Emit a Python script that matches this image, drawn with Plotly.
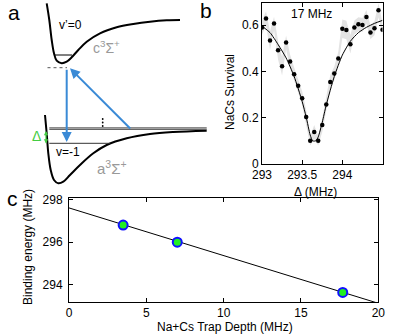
import plotly.graph_objects as go

# ---- panel b: NaCs survival vs detuning ----
detuning = [293.0, 293.05, 293.1, 293.15, 293.2, 293.25, 293.3, 293.35, 293.4, 293.45,
            293.5, 293.55, 293.6, 293.65, 293.7, 293.75, 293.8, 293.85, 293.9, 293.95,
            294.0, 294.05, 294.1, 294.15, 294.2, 294.25, 294.3, 294.35, 294.4, 294.45, 294.5]
survival = [0.589, 0.628, 0.533, 0.606, 0.491, 0.422, 0.525, 0.442, 0.387, 0.338,
            0.284, 0.203, 0.100, 0.138, 0.100, 0.168, 0.257, 0.354, 0.391, 0.455,
            0.584, 0.578, 0.517, 0.589, 0.603, 0.600, 0.635, 0.568, 0.586, 0.664, 0.580]
survival_err = [0.03, 0.03, 0.04, 0.03, 0.04, 0.04, 0.03, 0.03, 0.03, 0.03,
                0.03, 0.03, 0.02, 0.03, 0.02, 0.03, 0.03, 0.03, 0.03, 0.03,
                0.04, 0.04, 0.04, 0.03, 0.03, 0.03, 0.03, 0.03, 0.03, 0.03, 0.03]
fit_x = [293.0, 293.1, 293.2, 293.3, 293.4, 293.5, 293.55, 293.6, 293.63, 293.67,
         293.7, 293.75, 293.8, 293.9, 294.0, 294.1, 294.2, 294.3, 294.4, 294.5]
fit_y = [0.595, 0.567, 0.516, 0.458, 0.378, 0.270, 0.203, 0.125, 0.100, 0.100,
         0.117, 0.180, 0.255, 0.378, 0.470, 0.530, 0.567, 0.590, 0.607, 0.620]

# ---- panel c: binding energy vs trap depth ----
trap_depth = [3.5, 7.0, 17.7]
binding = [296.8, 296.0, 293.65]
line_x = [0, 20]
line_y = [297.6, 293.14]

# ---- panel a: schematic potentials (pixel-like coords) ----
c_pot_x = [46.7, 49.3, 51.7, 54, 56.7, 61.7, 66.7, 71.7, 78.3, 86.7, 100, 116.7, 133.3, 150, 166.7, 180]
c_pot_y = [3.3, 20, 40, 53.3, 60.7, 63.3, 61.7, 57.3, 50, 41.7, 33.3, 27.3, 24, 21.7, 20.3, 20]
a_pot_x = [45, 46.7, 48.3, 50.7, 54, 58.3, 63.3, 70, 80, 93.3, 106.7, 126.7, 150, 173.3, 206.7]
a_pot_y = [115, 133.3, 153.3, 170, 180, 183.3, 181.7, 175, 165, 153.3, 145, 138.3, 134, 132, 130.7]

FONT = "Liberation Sans Narrow, Liberation Sans, Arial"
FS = 12
W, H = 395, 336

fig = go.Figure()

# panel a curves
fig.add_trace(go.Scatter(x=c_pot_x, y=c_pot_y, mode="lines", line=dict(color="black", width=2, shape="spline"),
                         xaxis="x3", yaxis="y3", showlegend=False))
fig.add_trace(go.Scatter(x=a_pot_x, y=a_pot_y, mode="lines", line=dict(color="black", width=2, shape="spline"),
                         xaxis="x3", yaxis="y3", showlegend=False))
# levels
fig.add_trace(go.Scatter(x=[55, 72], y=[55, 55], mode="lines", line=dict(color="black", width=1),
                         xaxis="x3", yaxis="y3", showlegend=False))
fig.add_trace(go.Scatter(x=[47.5, 67], y=[67.7, 67.7], mode="lines", line=dict(color="#555555", width=1, dash="dot"),
                         xaxis="x3", yaxis="y3", showlegend=False))
for yy in [127.8, 129.4]:
    fig.add_trace(go.Scatter(x=[49.3, 206.7], y=[yy, yy], mode="lines", line=dict(color="#666666", width=1.2),
                             xaxis="x3", yaxis="y3", showlegend=False))
fig.add_trace(go.Scatter(x=[49.3, 110], y=[143.3, 143.3], mode="lines", line=dict(color="#333333", width=1),
                         xaxis="x3", yaxis="y3", showlegend=False))
fig.add_trace(go.Scatter(x=[102.7, 102.7, 102.7], y=[119, 122.5, 126], mode="markers",
                         marker=dict(color="black", size=1.8), xaxis="x3", yaxis="y3", showlegend=False))

# panel b band, points, fit
upper = [s + e for s, e in zip(survival, survival_err)]
lower = [s - e for s, e in zip(survival, survival_err)]
fig.add_trace(go.Scatter(x=detuning + detuning[::-1], y=upper + lower[::-1], fill="toself",
                         fillcolor="#e3e3e3", line=dict(width=0), mode="lines",
                         xaxis="x", yaxis="y", showlegend=False, hoverinfo="skip"))
fig.add_trace(go.Scatter(x=fit_x, y=fit_y, mode="lines", line=dict(color="black", width=1, shape="spline", smoothing=0.6),
                         xaxis="x", yaxis="y", showlegend=False))
fig.add_trace(go.Scatter(x=detuning, y=survival, mode="markers", marker=dict(color="black", size=4.5),
                         xaxis="x", yaxis="y", showlegend=False))

# panel c
fig.add_trace(go.Scatter(x=line_x, y=line_y, mode="lines", line=dict(color="black", width=1),
                         xaxis="x2", yaxis="y2", showlegend=False))
fig.add_trace(go.Scatter(x=trap_depth, y=binding, mode="markers",
                         marker=dict(color="#22ee22", size=9, line=dict(color="#1010ff", width=2)),
                         xaxis="x2", yaxis="y2", showlegend=False))

axis_common = dict(showline=True, linecolor="black", linewidth=1, mirror="ticks", ticks="inside",
                   ticklen=4, tickcolor="black", showgrid=False, zeroline=False, automargin=False,
                   tickfont=dict(family=FONT, size=FS, color="black"))

fig.update_layout(
    width=W, height=H, margin=dict(l=0, r=0, t=0, b=0),
    paper_bgcolor="white", plot_bgcolor="rgba(0,0,0,0)",
    font=dict(family=FONT, color="black"),
    xaxis=dict(domain=[262 / W, 382.5 / W], range=[293, 294.5], tickvals=[293, 293.5, 294],
               ticktext=["293", "293.5", "294"], anchor="y", **axis_common),
    yaxis=dict(domain=[1 - 164 / H, 1 - 3 / H], range=[0, 0.695], tickvals=[0, 0.2, 0.4, 0.6],
               ticktext=["0", "0.2", "0.4", "0.6"], anchor="x", **axis_common),
    xaxis2=dict(domain=[69 / W, 378.3 / W], range=[0, 20], tickvals=[0, 5, 10, 15, 20], anchor="y2",
                **axis_common),
    yaxis2=dict(domain=[1 - 302 / H, 1 - 198.3 / H], range=[293.2, 298.05], tickvals=[294, 296, 298],
                anchor="x2", ticklabelstandoff=3, **axis_common),
    xaxis3=dict(domain=[0, 250 / W], range=[0, 250], visible=False, anchor="y3"),
    yaxis3=dict(domain=[1 - 200 / H, 1], range=[200, 0], visible=False, anchor="x3"),
)

ann = []
# panel letters
for txt, x, y in [("a", 14, 13), ("b", 206, 11), ("c", 12, 198)]:
    ann.append(dict(text=txt, x=x / W, y=1 - y / H, xref="paper", yref="paper", showarrow=False,
                    font=dict(family=FONT, size=21, color="black"), xanchor="center", yanchor="middle"))
# axis titles
for txt, x, y, ang in [("Δ (MHz)", 315, 192, 0), ("NaCs Survival", 230, 92, -90),
                       ("Na+Cs Trap Depth (MHz)", 225, 327, 0), ("Binding energy (MHz)", 27.5, 247.5, -90)]:
    ann.append(dict(text=txt, x=x / W, y=1 - y / H, xref="paper", yref="paper", showarrow=False,
                    textangle=ang, xanchor="center", yanchor="middle", borderpad=0,
                    font=dict(family=FONT, size=FS, color="black")))
ann.append(dict(text="17 MHz", x=311 / W, y=1 - 14 / H, xref="paper", yref="paper", showarrow=False,
                xanchor="center", yanchor="middle",
                font=dict(family=FONT, size=FS, color="black")))
# schematic labels
ann.append(dict(text="v’=0", x=70, y=25, xref="x3", yref="y3", showarrow=False,
                font=dict(family=FONT, size=FS, color="black")))
ann.append(dict(text="c<sup>3</sup>Σ<sup>+</sup>", x=106, y=47, xref="x3", yref="y3", showarrow=False,
                font=dict(family=FONT, size=FS + 2, color="#999999")))
ann.append(dict(text="v=-1", x=68, y=152, xref="x3", yref="y3", showarrow=False,
                font=dict(family=FONT, size=FS, color="black")))
ann.append(dict(text="a<sup>3</sup>Σ<sup>+</sup>", x=112, y=167, xref="x3", yref="y3", showarrow=False,
                font=dict(family=FONT, size=FS + 3, color="#999999")))
ann.append(dict(text="Δ", x=36, y=136, xref="x3", yref="y3", showarrow=False,
                font=dict(family=FONT, size=FS + 2, color="#44cc44")))
# arrows
ann.append(dict(x=66.7, y=142, ax=66.7, ay=68.3, xref="x3", yref="y3", axref="x3", ayref="y3",
                showarrow=True, arrowhead=2, arrowsize=1, arrowwidth=2, arrowcolor="#3a8ad6", text=""))
ann.append(dict(x=70, y=68.3, ax=131.7, ay=130, xref="x3", yref="y3", axref="x3", ayref="y3",
                showarrow=True, arrowhead=2, arrowsize=1, arrowwidth=2, arrowcolor="#3a8ad6", text=""))
ann.append(dict(x=46, y=143.5, ax=46, ay=129.5, xref="x3", yref="y3", axref="x3", ayref="y3",
                showarrow=True, arrowhead=2, arrowside="end+start", arrowsize=0.7, arrowwidth=1.2,
                arrowcolor="#44cc44", text=""))
fig.update_layout(annotations=ann)

# 去掉浏览器默认的 body 边距，让图从左上角开始；隐藏工具栏
fig.write_html("out.html", config={"displayModeBar": False},
               post_script="document.body.style.margin='0';")
